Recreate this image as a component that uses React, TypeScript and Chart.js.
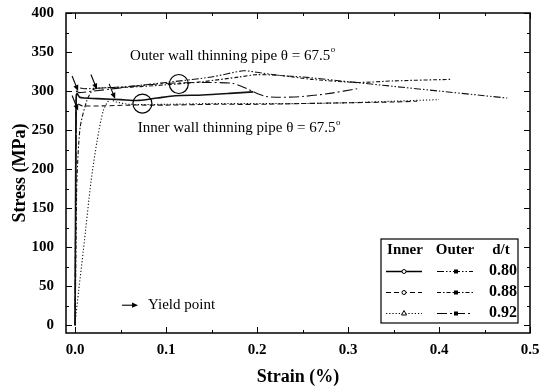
import { useEffect, useRef } from "react";
import { Chart, registerables } from "chart.js";
Chart.register(...registerables);

// ---- Axis ticks ----
const xTicks = [0, 0.1, 0.2, 0.3, 0.4, 0.5];
const xMinorTicks = [0.05, 0.15, 0.25, 0.35, 0.45];
const yTicks = [0, 50, 100, 150, 200, 250, 300, 350, 400];
const yMinorTicks = [25, 75, 125, 175, 225, 275, 325, 375];

// ---- Series (strain %, stress MPa) ----
const inner080Strain = [0, 0.0004, 0.0008, 0.0012, 0.002, 0.005, 0.01, 0.03, 0.05, 0.07, 0.09, 0.11, 0.14, 0.17, 0.196];
const inner080Stress = [0, 120, 240, 290, 297, 292, 291, 290, 289, 288, 291, 294, 295, 297, 299];

const inner088Strain = [0, 0.0006, 0.0012, 0.002, 0.004, 0.008, 0.03, 0.06, 0.1, 0.15, 0.2, 0.25, 0.3, 0.35, 0.376];
const inner088Stress = [0, 150, 270, 285, 283, 281, 281, 282, 282, 283, 283, 284, 285, 286, 287];

const inner092Strain = [0, 0.004, 0.009, 0.0176, 0.024, 0.031, 0.038, 0.045, 0.06, 0.1, 0.15, 0.2, 0.25, 0.3, 0.35, 0.4];
const inner092Stress = [3, 45, 95, 185, 235, 275, 289, 286, 283, 283, 284, 284, 284, 285, 287, 289];

const outer080Strain = [0, 0.0005, 0.001, 0.0015, 0.003, 0.01, 0.03, 0.06, 0.1, 0.15, 0.185, 0.2, 0.225, 0.25, 0.3, 0.35, 0.4, 0.45, 0.475];
const outer080Stress = [0, 130, 260, 300, 304, 303, 304, 306, 311, 318, 326, 324, 320, 318, 312, 306, 300, 294, 291];

const outer088Strain = [0, 0.001, 0.002, 0.0055, 0.013, 0.02, 0.03, 0.06, 0.1, 0.14, 0.18, 0.2, 0.225, 0.26, 0.31, 0.35, 0.414];
const outer088Stress = [0, 100, 185, 253, 288, 302, 304, 305, 308, 312, 318, 321, 320, 315, 311, 313, 315];

const outer092Strain = [0, 0.0006, 0.0012, 0.002, 0.004, 0.02, 0.05, 0.08, 0.105, 0.14, 0.173, 0.185, 0.2, 0.21, 0.225, 0.25, 0.28, 0.31];
const outer092Stress = [0, 150, 280, 300, 298, 300, 304, 308, 310, 311, 310, 305, 297, 293, 292, 293, 297, 303];

// ---- Annotations ----
const yieldStrain = [0.0033, 0.024, 0.044, 0.0033];
const yieldStress = [300, 302, 290, 275];
const circleStrain = [0.114, 0.074];
const circleStress = [309, 284];
const outerLabel = "Outer wall thinning pipe \u03B8 = 67.5";
const innerLabel = "Inner wall thinning pipe \u03B8 = 67.5";
const yieldLabel = "Yield point";
const legendHeaders = ["Inner", "Outer", "d/t"];
const legendRatios = ["0.80", "0.88", "0.92"];

const SERIF = "'Liberation Serif', 'Times New Roman', serif";

const innerDashes = [[], [5, 3], [1.2, 2]];
const outerDashes = [[7, 2, 1.5, 2, 1.5, 2], [4, 2, 1.5, 2], [10, 3, 2, 3]];
const innerMarkers = ["circle", "circle", "triangle"];

function pts(xs: number[], ys: number[]) {
  return xs.map((x, i) => ({ x, y: ys[i] }));
}

function drawArrow(ctx: CanvasRenderingContext2D, x0: number, y0: number, x1: number, y1: number) {
  const ang = Math.atan2(y1 - y0, x1 - x0);
  const hl = 6;
  const hw = 2.6;
  ctx.beginPath();
  ctx.moveTo(x0, y0);
  ctx.lineTo(x1 - Math.cos(ang) * hl * 0.8, y1 - Math.sin(ang) * hl * 0.8);
  ctx.stroke();
  ctx.beginPath();
  ctx.moveTo(x1, y1);
  ctx.lineTo(x1 - Math.cos(ang) * hl - Math.sin(ang) * hw, y1 - Math.sin(ang) * hl + Math.cos(ang) * hw);
  ctx.lineTo(x1 - Math.cos(ang) * hl + Math.sin(ang) * hw, y1 - Math.sin(ang) * hl - Math.cos(ang) * hw);
  ctx.closePath();
  ctx.fill();
}

const overlay = {
  id: "overlay",
  afterDraw(chart: any) {
    const { ctx, chartArea: a, scales } = chart;
    const xs = scales.x;
    const ys = scales.y;
    ctx.save();
    ctx.strokeStyle = "#000";
    ctx.fillStyle = "#000";
    // frame
    ctx.lineWidth = 1.5;
    ctx.strokeRect(a.left, a.top, a.right - a.left, a.bottom - a.top);
    // ticks
    ctx.lineWidth = 1;
    const tx = (v: number, len: number) => {
      const p = Math.round(xs.getPixelForValue(v)) + 0.5;
      ctx.beginPath();
      ctx.moveTo(p, a.bottom);
      ctx.lineTo(p, a.bottom - len);
      ctx.moveTo(p, a.top);
      ctx.lineTo(p, a.top + len);
      ctx.stroke();
    };
    const ty = (v: number, len: number) => {
      const p = Math.round(ys.getPixelForValue(v)) + 0.5;
      ctx.beginPath();
      ctx.moveTo(a.left, p);
      ctx.lineTo(a.left + len, p);
      ctx.moveTo(a.right, p);
      ctx.lineTo(a.right - len, p);
      ctx.stroke();
    };
    xTicks.forEach((v) => tx(v, 6));
    xMinorTicks.forEach((v) => tx(v, 3));
    yTicks.forEach((v) => ty(v, 6));
    yMinorTicks.forEach((v) => ty(v, 3));

    // circles
    ctx.lineWidth = 1.2;
    circleStrain.forEach((s, i) => {
      ctx.beginPath();
      ctx.arc(xs.getPixelForValue(s), ys.getPixelForValue(circleStress[i]), 9.5, 0, Math.PI * 2);
      ctx.stroke();
    });

    // yield arrows
    ctx.lineWidth = 1.1;
    yieldStrain.forEach((s, i) => {
      const px = xs.getPixelForValue(s);
      const py = ys.getPixelForValue(yieldStress[i]);
      drawArrow(ctx, px - 6, py - 15, px, py);
    });

    // text labels
    ctx.textBaseline = "middle";
    ctx.textAlign = "left";
    const label = (txt: string, sx: number, sy: number) => {
      const px = xs.getPixelForValue(sx);
      const py = ys.getPixelForValue(sy);
      ctx.font = `15px ${SERIF}`;
      ctx.fillText(txt, px, py);
      const w = ctx.measureText(txt).width;
      ctx.font = `9px ${SERIF}`;
      ctx.fillText("o", px + w + 0.5, py - 6);
    };
    label(outerLabel, 0.0604, 345);
    label(innerLabel, 0.069, 252);

    // yield point legend
    {
      const px = xs.getPixelForValue(0.0516);
      const py = ys.getPixelForValue(25.6);
      drawArrow(ctx, px, py, px + 16, py);
      ctx.font = `15px ${SERIF}`;
      ctx.fillText(yieldLabel, px + 26, py);
    }

    // legend box
    const L = 381, R = 518, T = 239, B = 323;
    ctx.lineWidth = 1.2;
    ctx.fillStyle = "#fff";
    ctx.fillRect(L, T, R - L, B - T);
    ctx.strokeRect(L, T, R - L, B - T);
    ctx.fillStyle = "#000";
    ctx.textAlign = "center";
    ctx.font = `bold 15px ${SERIF}`;
    const colX = [405, 455, 501];
    legendHeaders.forEach((h, i) => ctx.fillText(h, colX[i], 250));
    legendRatios.forEach((r, i) => {
      const y = 271 + i * 21;
      // inner sample
      ctx.lineWidth = i === 0 ? 1.4 : 1.1;
      ctx.setLineDash(innerDashes[i]);
      ctx.beginPath();
      ctx.moveTo(386, y + 0.5);
      ctx.lineTo(422, y + 0.5);
      ctx.stroke();
      ctx.setLineDash([]);
      ctx.lineWidth = 1;
      if (innerMarkers[i] === "circle") {
        ctx.fillStyle = "#fff";
        ctx.beginPath();
        ctx.arc(404, y + 0.5, 2, 0, Math.PI * 2);
        ctx.fill();
        ctx.stroke();
      } else {
        ctx.fillStyle = "#fff";
        ctx.beginPath();
        ctx.moveTo(404, y - 2.5);
        ctx.lineTo(406.5, y + 2);
        ctx.lineTo(401.5, y + 2);
        ctx.closePath();
        ctx.fill();
        ctx.stroke();
      }
      ctx.fillStyle = "#000";
      // outer sample
      ctx.lineWidth = 1.1;
      ctx.setLineDash(outerDashes[i]);
      ctx.beginPath();
      ctx.moveTo(437, y + 0.5);
      ctx.lineTo(473, y + 0.5);
      ctx.stroke();
      ctx.setLineDash([]);
      ctx.fillRect(454, y - 1.5, 4, 4);
      ctx.font = `bold 16px ${SERIF}`;
      ctx.fillText(r, 503, y);
    });
    ctx.restore();
  },
};

export default function App() {
  const ref = useRef<HTMLCanvasElement | null>(null);
  useEffect(() => {
    if (!ref.current) return;
    const mk = (xs: number[], ys: number[], dash: number[], w: number) => ({
      data: pts(xs, ys),
      showLine: true,
      borderColor: "#111",
      borderWidth: w,
      borderDash: dash,
      pointRadius: 0,
      fill: false,
      tension: 0.25,
    });
    const chart = new Chart(ref.current, {
      type: "scatter",
      data: {
        datasets: [
          mk(inner080Strain, inner080Stress, innerDashes[0], 1.6),
          mk(inner088Strain, inner088Stress, innerDashes[1], 1.1),
          mk(inner092Strain, inner092Stress, innerDashes[2], 1.1),
          mk(outer080Strain, outer080Stress, outerDashes[0], 1.1),
          mk(outer088Strain, outer088Stress, outerDashes[1], 1.1),
          mk(outer092Strain, outer092Stress, outerDashes[2], 1.1),
        ] as any,
      },
      options: {
        animation: false,
        responsive: false,
        layout: { padding: { top: 12, right: 12, left: 0, bottom: 0 } },
        plugins: { legend: { display: false }, tooltip: { enabled: false } },
        scales: {
          x: {
            type: "linear",
            min: -0.01,
            max: 0.5,
            grid: { display: false },
            border: { display: false },
            afterBuildTicks: (s: any) => {
              s.ticks = xTicks.map((v) => ({ value: v }));
            },
            afterFit: (s: any) => {
              s.height = 55;
            },
            ticks: {
              color: "#000",
              padding: 0,
              maxRotation: 0,
              font: { family: SERIF, size: 15, weight: "bold" },
              callback: (v: any) => Number(v).toFixed(1),
            },
            title: {
              display: true,
              text: "Strain (%)",
              color: "#000",
              padding: 0,
              font: { family: SERIF, size: 18, weight: "bold" },
            },
          },
          y: {
            type: "linear",
            min: -10,
            max: 400,
            grid: { display: false },
            border: { display: false },
            afterBuildTicks: (s: any) => {
              s.ticks = yTicks.map((v) => ({ value: v }));
            },
            afterFit: (s: any) => {
              s.width = 66;
            },
            ticks: {
              color: "#000",
              padding: 4,
              font: { family: SERIF, size: 15, weight: "bold" },
              callback: (v: any) => String(v),
            },
            title: {
              display: true,
              text: "Stress (MPa)",
              color: "#000",
              padding: { top: 10, bottom: 0 },
              font: { family: SERIF, size: 18, weight: "bold" },
            },
          },
        },
      } as any,
      plugins: [overlay],
    });
    return () => chart.destroy();
  }, []);
  return (
    <div style={{ position: "fixed", left: 0, top: 0, width: 542, height: 388, background: "#fff" }}>
      <canvas ref={ref} width={542} height={388} style={{ width: 542, height: 388, display: "block" }} />
    </div>
  );
}
